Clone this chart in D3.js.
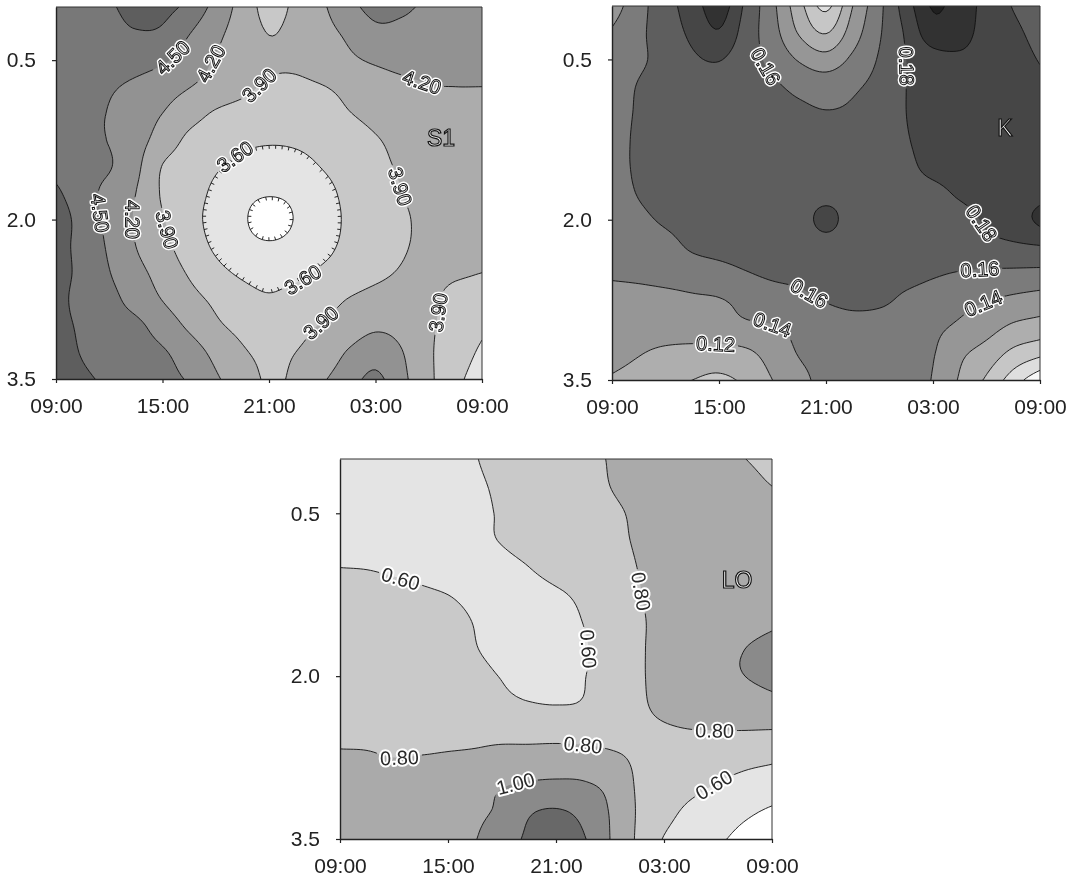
<!DOCTYPE html>
<html>
<head>
<meta charset="utf-8">
<script src="https://cdn.jsdelivr.net/npm/d3@7"></script>
<style>
  body { margin: 0; background: #fff; }
  svg { display: block; font-family: "Liberation Sans", Arial, sans-serif; }
  .soft { opacity: 0.999; }
</style>
</head>
<body>
<svg id="chart" width="1073" height="887"></svg>
<script>
// grid columns: hours after 09:00, grid rows: depth
var hours = [0, 1.5, 3, 4.5, 6, 7.5, 9, 10.5, 12, 13.5, 15, 16.5, 18, 19.5, 21, 22.5, 24];
var depths = [0, 0.25, 0.5, 0.75, 1.0, 1.25, 1.5, 1.75, 2.0, 2.25, 2.5, 2.75, 3.0, 3.25, 3.5];

var xTickHours = [0, 6, 12, 18, 24];
var xTickLabels = ["09:00", "15:00", "21:00", "03:00", "09:00"];
var yTicks = [0.5, 2.0, 3.5];

// S1 panel
var s1Levels = [3.3, 3.6, 3.9, 4.2, 4.5, 4.8];
var s1Grid = [
  [4.65, 4.70, 4.77, 4.88, 4.88, 4.72, 4.40, 4.09, 3.80, 3.96, 4.16, 4.40, 4.60, 4.55, 4.45, 4.40, 4.35],
  [4.62, 4.66, 4.72, 4.78, 4.75, 4.51, 4.27, 4.07, 3.895, 3.98, 4.11, 4.25, 4.42, 4.42, 4.37, 4.33, 4.30],
  [4.60, 4.62, 4.65, 4.62, 4.54, 4.36, 4.18, 4.05, 3.95, 3.95, 4.05, 4.15, 4.24, 4.30, 4.30, 4.28, 4.27],
  [4.58, 4.56, 4.53, 4.44, 4.33, 4.21, 4.09, 3.97, 3.86, 3.85, 3.89, 3.97, 4.05, 4.13, 4.19, 4.20, 4.20],
  [4.56, 4.53, 4.49, 4.34, 4.20, 4.02, 3.87, 3.80, 3.76, 3.76, 3.80, 3.89, 3.98, 4.06, 4.10, 4.12, 4.13],
  [4.55, 4.53, 4.49, 4.31, 4.08, 3.84, 3.74, 3.66, 3.63, 3.64, 3.69, 3.77, 3.88, 3.97, 4.03, 4.06, 4.08],
  [4.70, 4.60, 4.52, 4.27, 3.89, 3.75, 3.63, 3.53, 3.48, 3.52, 3.61, 3.71, 3.83, 3.93, 3.98, 4.02, 4.04],
  [4.85, 4.63, 4.41, 4.20, 3.87, 3.71, 3.55, 3.40, 3.33, 3.38, 3.52, 3.66, 3.76, 3.90, 3.96, 4.00, 4.02],
  [4.95, 4.69, 4.42, 4.17, 3.92, 3.69, 3.52, 3.35, 3.12, 3.32, 3.49, 3.64, 3.76, 3.87, 3.95, 3.99, 4.01],
  [4.92, 4.70, 4.46, 4.20, 3.99, 3.75, 3.56, 3.42, 3.35, 3.41, 3.53, 3.66, 3.77, 3.88, 3.94, 3.97, 3.99],
  [4.92, 4.72, 4.51, 4.29, 4.09, 3.87, 3.68, 3.56, 3.51, 3.54, 3.64, 3.73, 3.84, 3.92, 3.95, 3.93, 3.90],
  [4.90, 4.70, 4.58, 4.39, 4.19, 4.00, 3.84, 3.70, 3.63, 3.70, 3.79, 3.91, 3.99, 4.00, 3.95, 3.83, 3.78],
  [4.90, 4.75, 4.62, 4.56, 4.37, 4.15, 3.95, 3.83, 3.78, 3.83, 3.92, 4.03, 4.15, 4.10, 3.94, 3.80, 3.66],
  [4.95, 4.78, 4.68, 4.60, 4.53, 4.35, 4.12, 3.93, 3.85, 3.90, 4.01, 4.23, 4.38, 4.21, 3.94, 3.75, 3.55],
  [5.00, 4.85, 4.75, 4.65, 4.58, 4.47, 4.24, 4.03, 3.87, 3.95, 4.16, 4.38, 4.56, 4.27, 3.96, 3.68, 3.45]
];
// contour labels: [hour, depth, level]
var s1Labels = [
  [6.42, 0.45, 4.5], [8.68, 0.53, 4.2], [11.32, 0.71, 3.9], [20.62, 0.73, 4.2],
  [10.2, 1.44, 3.6], [2.48, 1.94, 4.5], [4.34, 2.0, 4.2], [6.25, 2.1, 3.9],
  [19.38, 1.69, 3.9], [13.86, 2.54, 3.6], [14.87, 2.97, 3.9], [21.52, 2.88, 3.9]
];

// K panel
var kLevels = [0.06, 0.08, 0.10, 0.12, 0.14, 0.16, 0.18, 0.20, 0.22];
var kGrid = [
  [0.130, 0.153, 0.172, 0.190, 0.210, 0.176, 0.145, 0.107, 0.075, 0.120, 0.155, 0.190, 0.222, 0.210, 0.194, 0.179, 0.170],
  [0.142, 0.156, 0.170, 0.184, 0.198, 0.171, 0.148, 0.118, 0.099, 0.130, 0.158, 0.183, 0.212, 0.206, 0.194, 0.184, 0.174],
  [0.147, 0.157, 0.166, 0.177, 0.181, 0.168, 0.155, 0.138, 0.128, 0.144, 0.162, 0.180, 0.192, 0.197, 0.193, 0.187, 0.179],
  [0.150, 0.161, 0.166, 0.170, 0.172, 0.168, 0.163, 0.155, 0.151, 0.157, 0.166, 0.180, 0.188, 0.190, 0.190, 0.188, 0.184],
  [0.151, 0.162, 0.166, 0.169, 0.170, 0.170, 0.168, 0.164, 0.161, 0.163, 0.169, 0.180, 0.186, 0.189, 0.190, 0.190, 0.189],
  [0.152, 0.163, 0.167, 0.169, 0.170, 0.171, 0.171, 0.170, 0.170, 0.171, 0.173, 0.179, 0.186, 0.189, 0.190, 0.190, 0.190],
  [0.152, 0.163, 0.167, 0.169, 0.170, 0.171, 0.172, 0.172, 0.173, 0.173, 0.174, 0.177, 0.184, 0.188, 0.190, 0.191, 0.193],
  [0.150, 0.161, 0.165, 0.168, 0.170, 0.171, 0.172, 0.173, 0.174, 0.174, 0.174, 0.175, 0.176, 0.182, 0.186, 0.190, 0.194],
  [0.146, 0.156, 0.162, 0.165, 0.167, 0.169, 0.170, 0.172, 0.185, 0.172, 0.171, 0.171, 0.172, 0.175, 0.182, 0.190, 0.204],
  [0.143, 0.150, 0.155, 0.162, 0.165, 0.167, 0.168, 0.169, 0.172, 0.170, 0.169, 0.169, 0.170, 0.172, 0.175, 0.177, 0.179],
  [0.143, 0.145, 0.148, 0.151, 0.154, 0.159, 0.163, 0.164, 0.166, 0.166, 0.166, 0.165, 0.162, 0.159, 0.157, 0.156, 0.155],
  [0.130, 0.132, 0.134, 0.137, 0.139, 0.145, 0.151, 0.156, 0.161, 0.164, 0.163, 0.157, 0.152, 0.146, 0.141, 0.136, 0.132],
  [0.128, 0.129, 0.130, 0.132, 0.134, 0.137, 0.139, 0.145, 0.150, 0.153, 0.152, 0.149, 0.144, 0.137, 0.128, 0.117, 0.112],
  [0.126, 0.121, 0.116, 0.113, 0.112, 0.116, 0.128, 0.141, 0.144, 0.146, 0.146, 0.144, 0.141, 0.124, 0.112, 0.095, 0.085],
  [0.118, 0.113, 0.106, 0.100, 0.096, 0.104, 0.120, 0.135, 0.145, 0.150, 0.149, 0.146, 0.139, 0.118, 0.097, 0.070, 0.045]
];
var kLabels = [
  [8.58, 0.57, 0.16], [16.55, 0.57, 0.18], [20.81, 2.03, 0.18], [10.94, 2.69, 0.16],
  [20.64, 2.47, 0.16], [8.86, 3.03, 0.14], [20.81, 2.78, 0.14], [5.89, 3.15, 0.12]
];

// LO panel
var loLevels = [0.4, 0.6, 0.8, 1.0, 1.2];
var loGrid = [
  [0.50, 0.50, 0.51, 0.53, 0.56, 0.595, 0.64, 0.69, 0.73, 0.77, 0.805, 0.83, 0.85, 0.85, 0.83, 0.801, 0.77],
  [0.51, 0.51, 0.52, 0.54, 0.56, 0.585, 0.62, 0.67, 0.71, 0.76, 0.80, 0.83, 0.85, 0.86, 0.85, 0.83, 0.80],
  [0.51, 0.51, 0.52, 0.54, 0.56, 0.58, 0.61, 0.65, 0.69, 0.74, 0.78, 0.815, 0.85, 0.87, 0.87, 0.86, 0.85],
  [0.52, 0.52, 0.53, 0.54, 0.56, 0.58, 0.605, 0.64, 0.67, 0.72, 0.77, 0.81, 0.85, 0.88, 0.89, 0.89, 0.89],
  [0.60, 0.595, 0.58, 0.565, 0.55, 0.55, 0.57, 0.599, 0.65, 0.70, 0.75, 0.80, 0.84, 0.87, 0.89, 0.90, 0.91],
  [0.66, 0.65, 0.64, 0.62, 0.60, 0.57, 0.55, 0.55, 0.58, 0.633, 0.725, 0.79, 0.84, 0.88, 0.90, 0.91, 0.93],
  [0.70, 0.69, 0.68, 0.66, 0.64, 0.595, 0.56, 0.54, 0.55, 0.602, 0.694, 0.78, 0.83, 0.87, 0.90, 0.93, 0.97],
  [0.72, 0.71, 0.70, 0.68, 0.65, 0.605, 0.57, 0.54, 0.55, 0.585, 0.675, 0.777, 0.84, 0.89, 0.95, 1.00, 1.06],
  [0.74, 0.73, 0.72, 0.70, 0.67, 0.63, 0.595, 0.56, 0.56, 0.593, 0.675, 0.777, 0.84, 0.89, 0.95, 1.00, 1.06],
  [0.74, 0.73, 0.72, 0.70, 0.68, 0.65, 0.63, 0.605, 0.595, 0.61, 0.70, 0.775, 0.83, 0.86, 0.88, 0.90, 0.94],
  [0.78, 0.775, 0.77, 0.765, 0.76, 0.75, 0.74, 0.72, 0.71, 0.715, 0.74, 0.77, 0.785, 0.797, 0.80, 0.80, 0.795],
  [0.81, 0.81, 0.80, 0.805, 0.815, 0.83, 0.86, 0.88, 0.90, 0.88, 0.83, 0.78, 0.74, 0.71, 0.68, 0.65, 0.63],
  [0.85, 0.86, 0.87, 0.89, 0.92, 0.96, 0.99, 1.02, 1.03, 1.02, 0.95, 0.785, 0.72, 0.65, 0.592, 0.55, 0.52],
  [0.90, 0.91, 0.93, 0.95, 0.97, 0.98, 1.03, 1.18, 1.22, 1.15, 0.99, 0.79, 0.66, 0.56, 0.50, 0.433, 0.37],
  [0.92, 0.93, 0.95, 0.97, 0.99, 0.996, 1.09, 1.24, 1.32, 1.22, 1.00, 0.78, 0.59, 0.51, 0.43, 0.34, 0.28]
];
var loLabels = [
  [3.33, 1.09, 0.6], [13.89, 1.76, 0.6], [16.67, 1.23, 0.8], [3.33, 2.74, 0.8],
  [13.5, 2.65, 0.8], [20.72, 2.51, 0.8], [9.83, 2.98, 1.0], [20.72, 2.98, 0.6]
];

var svg = d3.select("#chart");
svg.append("rect").attr("width", 1073).attr("height", 887).attr("fill", "#fff");

// catmull-rom, used only to draw smooth bands between the read grid values
function cr(p0, p1, p2, p3, t) {
    return 0.5 * (2 * p1 + (p2 - p0) * t + (2 * p0 - 5 * p1 + 4 * p2 - p3) * t * t + (3 * p1 - p0 - 3 * p2 + p3) * t * t * t);
}

function ext(a, i) {
    var n = a.length;
    if (i < 0) return 2 * a[0] - a[1];
    if (i > n - 1) return 2 * a[n - 1] - a[n - 2];
    return a[i];
}

function upsample(grid, f) {
    var rows = grid.length, cols = grid[0].length;
    var nx = (cols - 1) * f + 1, ny = (rows - 1) * f + 1;
    var wide = grid.map(function(row) {
        return d3.range(nx).map(function(i) {
            var u = i / f, c = Math.min(Math.floor(u), cols - 2), t = u - c;
            return cr(ext(row, c - 1), ext(row, c), ext(row, c + 1), ext(row, c + 2), t);
        });
    });
    var values = new Array(nx * ny);
    for (var i = 0; i < nx; i++) {
        var col = wide.map(function(r) { return r[i]; });
        for (var j = 0; j < ny; j++) {
            var v = j / f, r = Math.min(Math.floor(v), rows - 2), t = v - r;
            values[j * nx + i] = cr(ext(col, r - 1), ext(col, r), ext(col, r + 1), ext(col, r + 2), t);
        }
    }
    return { values: values, nx: nx, ny: ny };
}

var fmt = d3.format(".2f");

function drawPanel(cfg) {
    var x = d3.scaleLinear().domain([hours[0], hours[hours.length - 1]]).range([cfg.x0, cfg.x0 + cfg.w]);
    var y = d3.scaleLinear().domain([depths[0], depths[depths.length - 1]]).range([cfg.y0, cfg.y0 + cfg.h]);
    var F = 8;
    var up = upsample(cfg.grid, F);
    var hx = d3.scaleLinear().domain([0.5, up.nx - 0.5]).range(x.domain());
    var dy = d3.scaleLinear().domain([0.5, up.ny - 0.5]).range(y.domain());
    var toPx = function(p) { return [x(hx(p[0])), y(dy(p[1]))]; };
    var proj = d3.geoTransform({ point: function(a, b) { var p = toPx([a, b]); this.stream.point(p[0], p[1]); } });
    var path = d3.geoPath(proj);

    var contours = d3.contours().size([up.nx, up.ny]).thresholds(cfg.levels)(up.values);
    var gray = function(v) { return d3.rgb(v, v, v).toString(); };

    var g = svg.append("g");
    var defs = g.append("defs");
    defs.append("clipPath").attr("id", cfg.id + "-clip")
        .append("rect").attr("x", cfg.x0).attr("y", cfg.y0).attr("width", cfg.w).attr("height", cfg.h);

    var plot = g.append("g").attr("clip-path", "url(#" + cfg.id + "-clip)");
    plot.append("rect")
        .attr("x", cfg.x0).attr("y", cfg.y0).attr("width", cfg.w).attr("height", cfg.h)
        .attr("fill", gray(cfg.grays[0]));
    plot.selectAll("path.band")
        .data(contours)
        .enter()
        .append("path")
        .attr("class", "band")
        .attr("d", path)
        .attr("fill-rule", "evenodd")
        .attr("fill", function(d, i) { return gray(cfg.grays[i + 1]); });

    // line work is masked out under the labels
    var mask = defs.append("mask").attr("id", cfg.id + "-mask")
        .attr("maskUnits", "userSpaceOnUse")
        .attr("x", 0).attr("y", 0).attr("width", 1073).attr("height", 887);
    mask.append("rect").attr("width", 1073).attr("height", 887).attr("fill", "#fff");

    plot.append("g")
        .attr("mask", "url(#" + cfg.id + "-mask)")
        .selectAll("path")
        .data(contours)
        .enter()
        .append("path")
        .attr("d", path)
        .attr("fill", "none")
        .attr("stroke", "#111")
        .attr("stroke-width", 0.9);

    var inside = function(p, m) {
        return p[0] > cfg.x0 + m && p[0] < cfg.x0 + cfg.w - m && p[1] > cfg.y0 + m && p[1] < cfg.y0 + cfg.h - m;
    };
    var ringsFor = function(level) {
        var k = cfg.levels.findIndex(function(v) { return Math.abs(v - level) < 1e-9; });
        var rings = [];
        contours[k].coordinates.forEach(function(poly) {
            poly.forEach(function(ring) { rings.push(ring.map(toPx)); });
        });
        return rings;
    };

    // depression hachures
    (cfg.hachure || []).forEach(function(level) {
        ringsFor(level).forEach(function(ring) {
            if (!ring.every(function(p) { return inside(p, 2); })) return;
            var cxm = d3.mean(ring, function(p) { return p[0]; });
            var cym = d3.mean(ring, function(p) { return p[1]; });
            var acc = 0;
            for (var i = 1; i < ring.length; i++) {
                var a = ring[i - 1], b = ring[i];
                var seg = Math.hypot(b[0] - a[0], b[1] - a[1]);
                acc += seg;
                if (acc >= 6 && seg > 0) {
                    acc = 0;
                    var tx = (b[0] - a[0]) / seg, ty = (b[1] - a[1]) / seg;
                    var nx = -ty, ny = tx;
                    if (nx * (cxm - b[0]) + ny * (cym - b[1]) < 0) { nx = -nx; ny = -ny; }
                    plot.append("line")
                        .attr("x1", b[0]).attr("y1", b[1])
                        .attr("x2", b[0] + nx * 3.5).attr("y2", b[1] + ny * 3.5)
                        .attr("stroke", "#111").attr("stroke-width", 0.9);
                }
            }
        });
    });

    // contour labels snapped to the nearest contour line
    var labelG = g.append("g").attr("class", "soft");
    cfg.labels.forEach(function(lb, li) {
        var tx = x(lb[0]), ty = y(lb[1]);
        var best = null, bestD = Infinity;
        ringsFor(lb[2]).forEach(function(ring) {
            ring.forEach(function(p, i) {
                if (!inside(p, 3)) return;
                var dd = (p[0] - tx) * (p[0] - tx) + (p[1] - ty) * (p[1] - ty);
                if (dd < bestD) { bestD = dd; best = { ring: ring, i: i }; }
            });
        });
        if (!best) return;
        var n = best.ring.length;
        var p = best.ring[best.i];
        var pa = best.ring[(best.i - 4 + n) % n], pb = best.ring[(best.i + 4) % n];
        var ang = Math.atan2(pb[1] - pa[1], pb[0] - pa[0]) * 180 / Math.PI;
        if (ang > 90) ang -= 180;
        if (ang <= -90) ang += 180;
        // steep lines read downwards, except the ones flagged to read upwards
        var readUp = (cfg.readUp || []).indexOf(li) >= 0;
        if (!readUp && ang < -70) ang += 180;
        if (readUp && ang > 70) ang -= 180;
        var tr = "translate(" + p[0] + "," + p[1] + ") rotate(" + ang + ")";
        var txt = fmt(lb[2]);
        labelG.append("text")
            .attr("transform", tr).attr("text-anchor", "middle").attr("dy", "0.36em")
            .attr("font-size", 20)
            .attr("fill", "#fff").attr("stroke", "#fff").attr("stroke-width", 4)
            .attr("stroke-linejoin", "round")
            .text(txt);
        var t = labelG.append("text")
            .attr("transform", tr).attr("text-anchor", "middle").attr("dy", "0.36em")
            .attr("font-size", 20)
            .text(txt);
        if (cfg.hollow) {
            t.attr("fill", "#fff").attr("stroke", "#111").attr("stroke-width", 1);
        } else {
            t.attr("fill", "#2a2a2a");
        }
        var len = t.node().getComputedTextLength();
        mask.append("rect")
            .attr("x", -len / 2 - 3).attr("y", -9).attr("width", len + 6).attr("height", 18)
            .attr("transform", tr).attr("fill", "#000");
    });

    // panel name
    g.append("text")
        .attr("class", "soft")
        .attr("x", x(cfg.nameAt[0])).attr("y", y(cfg.nameAt[1]))
        .attr("text-anchor", "middle").attr("dy", "0.36em")
        .attr("font-size", 23)
        .attr("fill", "#fff").attr("stroke", "#111").attr("stroke-width", 1.2)
        .text(cfg.name);

    // frame
    g.append("path")
        .attr("d", "M" + cfg.x0 + "," + cfg.y0 + "H" + (cfg.x0 + cfg.w) + "V" + (cfg.y0 + cfg.h))
        .attr("fill", "none").attr("stroke", "#333").attr("stroke-width", 1);

    var xAxis = g.append("g")
        .attr("transform", "translate(0," + (cfg.y0 + cfg.h) + ")")
        .call(d3.axisBottom(x)
            .tickValues(xTickHours)
            .tickFormat(function(d, i) { return xTickLabels[i]; })
            .tickSize(4).tickSizeOuter(0).tickPadding(15));
    var yAxis = g.append("g")
        .attr("transform", "translate(" + cfg.x0 + ",0)")
        .call(d3.axisLeft(y)
            .tickValues(yTicks)
            .tickFormat(d3.format(".1f"))
            .tickSize(4).tickSizeOuter(0).tickPadding(16));
    [xAxis, yAxis].forEach(function(a) {
        a.attr("font-family", null).attr("font-size", 21);
        a.selectAll("text").attr("fill", "#222");
        a.select(".domain").attr("stroke", "#222").attr("stroke-width", 1.4);
        a.selectAll(".tick line").attr("stroke", "#222").attr("stroke-width", 1.2);
    });
}

drawPanel({
    id: "s1", name: "S1", nameAt: [21.69, 1.23],
    x0: 56, y0: 7, w: 426, h: 372,
    grid: s1Grid, levels: s1Levels, labels: s1Labels,
    grays: [255, 228, 200, 172, 146, 120, 94],
    hachure: [3.3, 3.6], hollow: true, readUp: [11]
});

drawPanel({
    id: "k", name: "K", nameAt: [22.04, 1.14],
    x0: 612, y0: 6, w: 428, h: 374,
    grid: kGrid, levels: kLevels, labels: kLabels,
    grays: [247, 222, 198, 174, 150, 123, 94, 70, 50, 32],
    hollow: true
});

drawPanel({
    id: "lo", name: "LO", nameAt: [22.06, 1.11],
    x0: 340, y0: 459, w: 432, h: 380,
    grid: loGrid, levels: loLevels, labels: loLabels,
    grays: [255, 228, 201, 170, 138, 104],
    hollow: false
});
</script>
</body>
</html>
